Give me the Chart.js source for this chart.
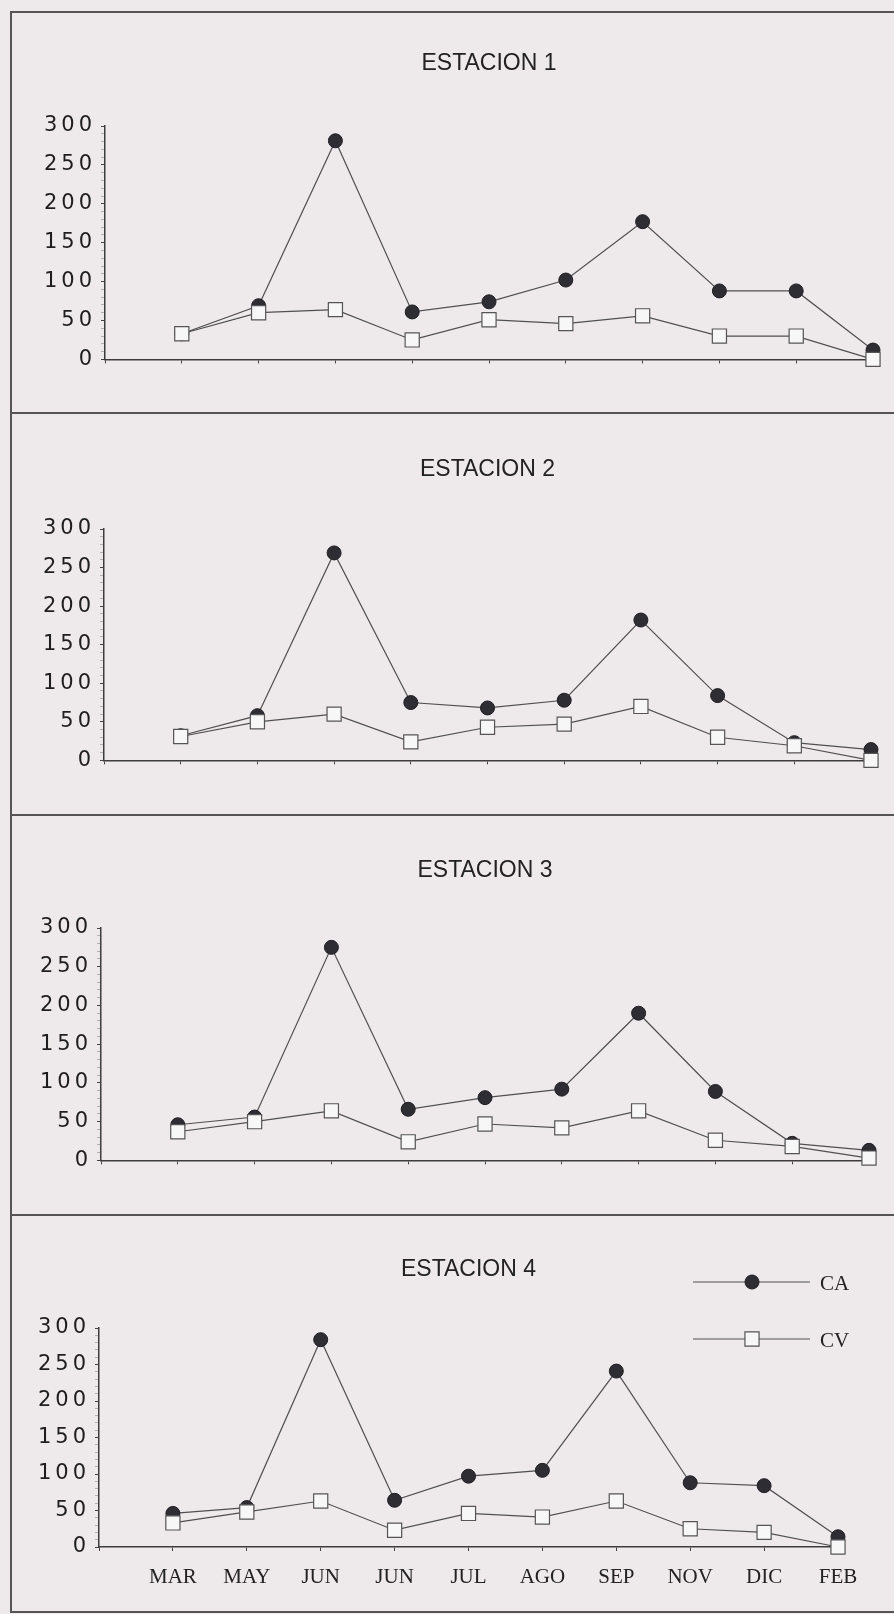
<!DOCTYPE html>
<html>
<head>
<meta charset="utf-8">
<script src="https://cdn.jsdelivr.net/npm/chart.js@4.4.1/dist/chart.umd.min.js"></script>
<style>
  html, body { margin: 0; padding: 0; }
  body { width: 894px; height: 1614px; background: #eeeaeb; position: relative; overflow: hidden; }
  .rule { position: absolute; background: #555; }
  canvas { position: absolute; left: 0; }
</style>
</head>
<body>
<div class="rule" style="left:10px;top:11px;width:2px;height:1602px"></div>
<div class="rule" style="left:10px;top:11px;width:884px;height:2px"></div>
<div class="rule" style="left:10px;top:412px;width:884px;height:2px"></div>
<div class="rule" style="left:10px;top:814px;width:884px;height:2px"></div>
<div class="rule" style="left:10px;top:1214px;width:884px;height:2px"></div>
<div class="rule" style="left:10px;top:1611px;width:884px;height:2px"></div>

<script>
// months sampled (two JUN samples in the original)
const months = ['MAR', 'MAY', 'JUN', 'JUN', 'JUL', 'AGO', 'SEP', 'NOV', 'DIC', 'FEB'];
const yLabels = [0, 50, 100, 150, 200, 250, 300];
const stations = ['ESTACION 1', 'ESTACION 2', 'ESTACION 3', 'ESTACION 4'];
const seriesNames = ['CA', 'CV'];

const caE1 = [33, 69, 281, 61, 74, 102, 177, 88, 88, 12];
const cvE1 = [33, 60, 64, 25, 51, 46, 56, 30, 30, 0];

const caE2 = [32, 58, 269, 75, 68, 78, 182, 84, 23, 14];
const cvE2 = [31, 50, 60, 24, 43, 47, 70, 30, 19, 0];

const caE3 = [46, 56, 275, 66, 81, 92, 190, 89, 22, 13];
const cvE3 = [37, 50, 64, 24, 47, 42, 64, 26, 18, 3];

const caE4 = [46, 54, 284, 64, 97, 105, 241, 88, 84, 14];
const cvE4 = [33, 48, 63, 23, 46, 41, 63, 25, 20, 0];

const caSeries = [caE1, caE2, caE3, caE4];
const cvSeries = [cvE1, cvE2, cvE3, cvE4];

// page placement of each panel (px)
var frames = [
  { top: 13, left: 105, right: 873, titleY: 64, areaTop: 126, areaBottom: 365, xHeight: 12 },
  { top: 414, left: 104, right: 871, titleY: 470, areaTop: 529, areaBottom: 766, xHeight: 12 },
  { top: 816, left: 101, right: 869, titleY: 871, areaTop: 928, areaBottom: 1166, xHeight: 12 },
  { top: 1216, left: 99, right: 838, titleY: 1270, areaTop: 1328, areaBottom: 1547, xHeight: 60 }
];

Chart.defaults.font.family = '"Liberation Sans", Arial, sans-serif';
Chart.defaults.color = '#222';

// wide-spaced numbers on the value axis
var spacedTicks = {
  id: 'spacedTicks',
  beforeDraw(chart) {
    var y = chart.scales.y;
    if (y._spaced) return;
    var drawLabels = y.drawLabels;
    y.drawLabels = function (area) {
      this.ctx.save();
      this.ctx.letterSpacing = '4px';
      drawLabels.call(this, area);
      this.ctx.restore();
    };
    y._spaced = true;
  }
};

// line + marker legend, only on the last panel
var lineLegend = {
  id: 'lineLegend',
  afterDraw(chart, args, opts) {
    if (!opts.items) return;
    var ctx = chart.ctx;
    chart.data.datasets.forEach((ds, i) => {
      var it = opts.items[i];
      ctx.save();
      ctx.strokeStyle = ds.borderColor;
      ctx.lineWidth = ds.borderWidth;
      ctx.beginPath();
      ctx.moveTo(it.x0, it.y);
      ctx.lineTo(it.x1, it.y);
      ctx.stroke();
      ctx.fillStyle = ds.pointBackgroundColor;
      ctx.strokeStyle = ds.pointBorderColor;
      ctx.lineWidth = ds.pointBorderWidth;
      Chart.helpers.drawPoint(ctx, { pointStyle: ds.pointStyle, radius: ds.pointRadius, borderWidth: ds.pointBorderWidth, rotation: 0 }, it.xm, it.y);
      ctx.fillStyle = '#222';
      ctx.font = '21px "Liberation Serif", "Times New Roman", serif';
      ctx.textBaseline = 'middle';
      ctx.fillText(ds.label, it.tx, it.y + 2);
      ctx.restore();
    });
  }
};

var toPoints = (values) => values.map((v, i) => ({ x: i + 1, y: v }));

frames.forEach((f, n) => {
  var canvas = document.createElement('canvas');
  var h = f.areaBottom - f.top + f.xHeight;
  canvas.width = 894;
  canvas.height = h;
  canvas.style.top = f.top + 'px';
  document.body.appendChild(canvas);

  var last = n === frames.length - 1;

  new Chart(canvas, {
    type: 'line',
    data: {
      datasets: [{
        label: seriesNames[0],
        data: toPoints(caSeries[n]),
        borderColor: '#505050',
        borderWidth: 1.2,
        pointStyle: 'circle',
        pointRadius: 7,
        pointBackgroundColor: '#2e2d33',
        pointBorderColor: '#1e1e22',
        pointBorderWidth: 1,
        order: 2,
        clip: false
      }, {
        label: seriesNames[1],
        data: toPoints(cvSeries[n]),
        borderColor: '#505050',
        borderWidth: 1.2,
        pointStyle: 'rect',
        pointRadius: 10,
        pointBackgroundColor: '#f8f7f7',
        pointBorderColor: '#555',
        pointBorderWidth: 1.2,
        order: 1,
        clip: false
      }]
    },
    options: {
      responsive: false,
      animation: false,
      events: [],
      layout: { padding: { left: 0, right: 894 - f.right, top: 0, bottom: 0 } },
      scales: {
        x: {
          type: 'linear',
          min: 0,
          max: months.length,
          afterFit: (scale) => { scale.height = f.xHeight; },
          ticks: {
            display: last,
            stepSize: 1,
            autoSkip: false,
            maxRotation: 0,
            padding: 14,
            font: { family: '"Liberation Serif", "Times New Roman", serif', size: 21 },
            color: '#222',
            callback: (v) => (v >= 1 ? months[v - 1] : '')
          },
          grid: { drawOnChartArea: false, drawTicks: true, tickLength: 4, tickColor: '#444' },
          border: { color: '#3c3c3c', width: 1.5 }
        },
        y: {
          min: 0,
          max: 300,
          afterFit: (scale) => { scale.width = f.left; },
          ticks: {
            stepSize: 10,
            autoSkip: false,
            padding: 5,
            font: { family: '"DejaVu Sans", sans-serif', size: 21 },
            color: '#1e1e1e',
            callback: (v) => (yLabels.includes(v) ? String(v) : '')
          },
          grid: {
            drawOnChartArea: false,
            drawTicks: true,
            tickLength: 4,
            tickColor: (c) => (yLabels.includes(c.tick.value) ? '#444' : 'rgba(70,70,70,0.35)')
          },
          border: { color: '#3c3c3c', width: 1.5 }
        }
      },
      plugins: {
        legend: { display: false },
        tooltip: { enabled: false },
        title: {
          display: true,
          text: stations[n],
          fullSize: false,
          color: '#222',
          font: { size: 23, weight: 'normal', lineHeight: 1 },
          padding: { top: f.titleY - f.top - 11.5, bottom: f.areaTop - f.titleY - 11.5 }
        },
        lineLegend: last ? {
          items: [
            { x0: 693, x1: 810, xm: 752, tx: 820, y: 1282 - f.top },
            { x0: 693, x1: 810, xm: 752, tx: 820, y: 1339 - f.top }
          ]
        } : {}
      }
    },
    plugins: [spacedTicks, lineLegend]
  });
});
</script>
</body>
</html>
